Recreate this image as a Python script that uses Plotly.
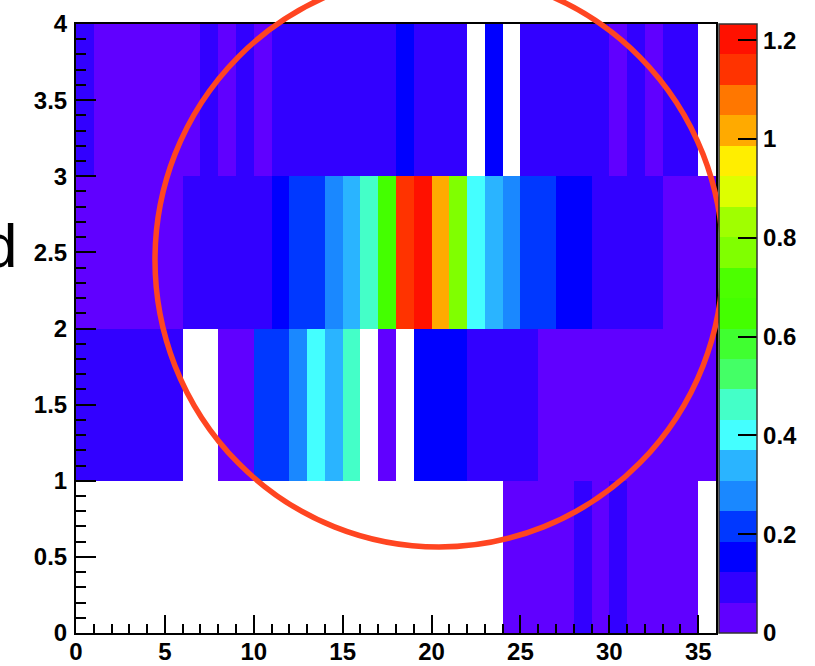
import plotly.graph_objects as go

# ---- data -------------------------------------------------------------
x_centers = [i + 0.5 for i in range(36)]
y_centers = [0.5, 1.5, 2.5, 3.5]

N = None
# y bin 0 - 1
row0 = [N] * 24 + [0.03, 0.03, 0.03, 0.03, 0.09, 0.03, 0.09, 0.03, 0.03, 0.03, 0.03, N]
# y bin 1 - 2
row1 = [0.09, 0.09, 0.09, 0.09, 0.09, 0.09, N, N, 0.03, 0.03,
        0.21, 0.21, 0.28, 0.40, 0.34, 0.46, N, 0.03, N, 0.15,
        0.15, 0.15, 0.09, 0.09, 0.09, 0.09, 0.03, 0.03, 0.03, 0.03,
        0.03, 0.03, 0.03, 0.03, 0.03, 0.03]
# y bin 2 - 3
row2 = [0.03, 0.03, 0.03, 0.03, 0.03, 0.03, 0.09, 0.09, 0.09, 0.09,
        0.09, 0.15, 0.21, 0.21, 0.28, 0.34, 0.46, 0.65, 1.14, 1.233,
        1.02, 0.77, 0.40, 0.34, 0.28, 0.21, 0.21, 0.15, 0.15, 0.09,
        0.09, 0.09, 0.09, 0.03, 0.03, 0.03]
# y bin 3 - 4
row3 = [0.09, 0.03, 0.03, 0.03, 0.03, 0.03, 0.03, 0.09, 0.03, 0.09,
        0.03, 0.09, 0.09, 0.09, 0.09, 0.09, 0.09, 0.09, 0.15, 0.09,
        0.09, 0.09, N, 0.15, N, 0.09, 0.09, 0.09, 0.09, 0.09,
        0.03, 0.09, 0.03, 0.09, 0.09, N]
z_values = [row0, row1, row2, row3]

z_max = 1.233
n_levels = 20
level_colors = ["#6000FF", "#3200FF", "#0000FF", "#0038FF", "#1A88FF",
                "#2AB4FF", "#44FFFF", "#44FFC8", "#44FF66", "#40FF30",
                "#44FF00", "#4CFF00", "#80FF00", "#A0FF00", "#DDFF00",
                "#FFEE00", "#FFAA00", "#FF7700", "#FF3300", "#FF1100"]

colorbar_ticks = [0, 0.2, 0.4, 0.6, 0.8, 1.0, 1.2]
colorbar_ticktext = ["0", "0.2", "0.4", "0.6", "0.8", "1", "1.2"]

# ---- figure -----------------------------------------------------------
colorscale = []
for i, c in enumerate(level_colors):
    colorscale.append([i / n_levels, c])
    colorscale.append([(i + 1) / n_levels, c])

W, H = 815, 666
ml, mr, mt, mb = 76, 99, 24, 33
pw, ph = W - ml - mr, H - mt - mb

FONT = "Liberation Sans, Arial, Helvetica, sans-serif"
tickfont = dict(family=FONT, size=24, color="black", weight="bold")

fig = go.Figure()
fig.add_trace(go.Heatmap(
    x=x_centers, y=y_centers, z=z_values,
    zmin=0, zmax=z_max, colorscale=colorscale,
    hoverongaps=False,
    colorbar=dict(
        x=(719 - ml) / pw, xanchor="left", xpad=0,
        y=0.5, yanchor="middle", len=1.0, lenmode="fraction", ypad=0,
        thickness=38, thicknessmode="pixels",
        outlinewidth=1.5, outlinecolor="#333333",
        tickmode="array", tickvals=colorbar_ticks, ticktext=colorbar_ticktext,
        ticks="inside", ticklen=19, tickwidth=2, tickcolor="black",
        tickfont=tickfont,
    ),
))

fig.update_xaxes(
    range=[0, 36], dtick=5, tick0=0, automargin=False,
    ticks="inside", ticklen=18, tickwidth=2, tickcolor="black",
    minor=dict(dtick=1, ticks="inside", ticklen=9, tickwidth=2, tickcolor="black"),
    showline=True, linewidth=2, linecolor="black", mirror=True,
    showgrid=False, zeroline=False, tickfont=tickfont, ticklabelstandoff=-4,
)
fig.update_yaxes(
    range=[0, 4], dtick=0.5, tick0=0, automargin=False,
    ticks="inside", ticklen=20, tickwidth=2, tickcolor="black",
    minor=dict(dtick=0.1, ticks="inside", ticklen=10, tickwidth=2, tickcolor="black"),
    showline=True, linewidth=2, linecolor="black", mirror=True,
    showgrid=False, zeroline=False, tickfont=tickfont, ticklabelstandoff=2,
)

# red circle overlay
cx0, cx1 = 155, 723
cy_top, cy_bot = 260 - 287, 547
fig.add_shape(
    type="circle", xref="paper", yref="paper",
    x0=(cx0 - ml) / pw, x1=(cx1 - ml) / pw,
    y0=(H - mb - cy_bot) / ph, y1=(H - mb - cy_top) / ph,
    line=dict(color="#FF4521", width=5.5), layer="above",
)

# cut-off axis title fragment on the left
fig.add_annotation(
    text="d", xref="paper", yref="paper",
    x=(19 - ml) / pw, xanchor="right",
    y=(H - mb - 245) / ph, yanchor="middle",
    showarrow=False, font=dict(family=FONT, size=62, color="black"),
)

fig.update_layout(
    width=W, height=H,
    margin=dict(l=ml, r=mr, t=mt, b=mb, pad=0, autoexpand=False),
    paper_bgcolor="white", plot_bgcolor="white",
    showlegend=False,
)

fig.write_html(
    "out.html",
    config={"displayModeBar": False},
    post_script="document.body.style.margin='0';document.body.style.overflow='hidden';",
)
